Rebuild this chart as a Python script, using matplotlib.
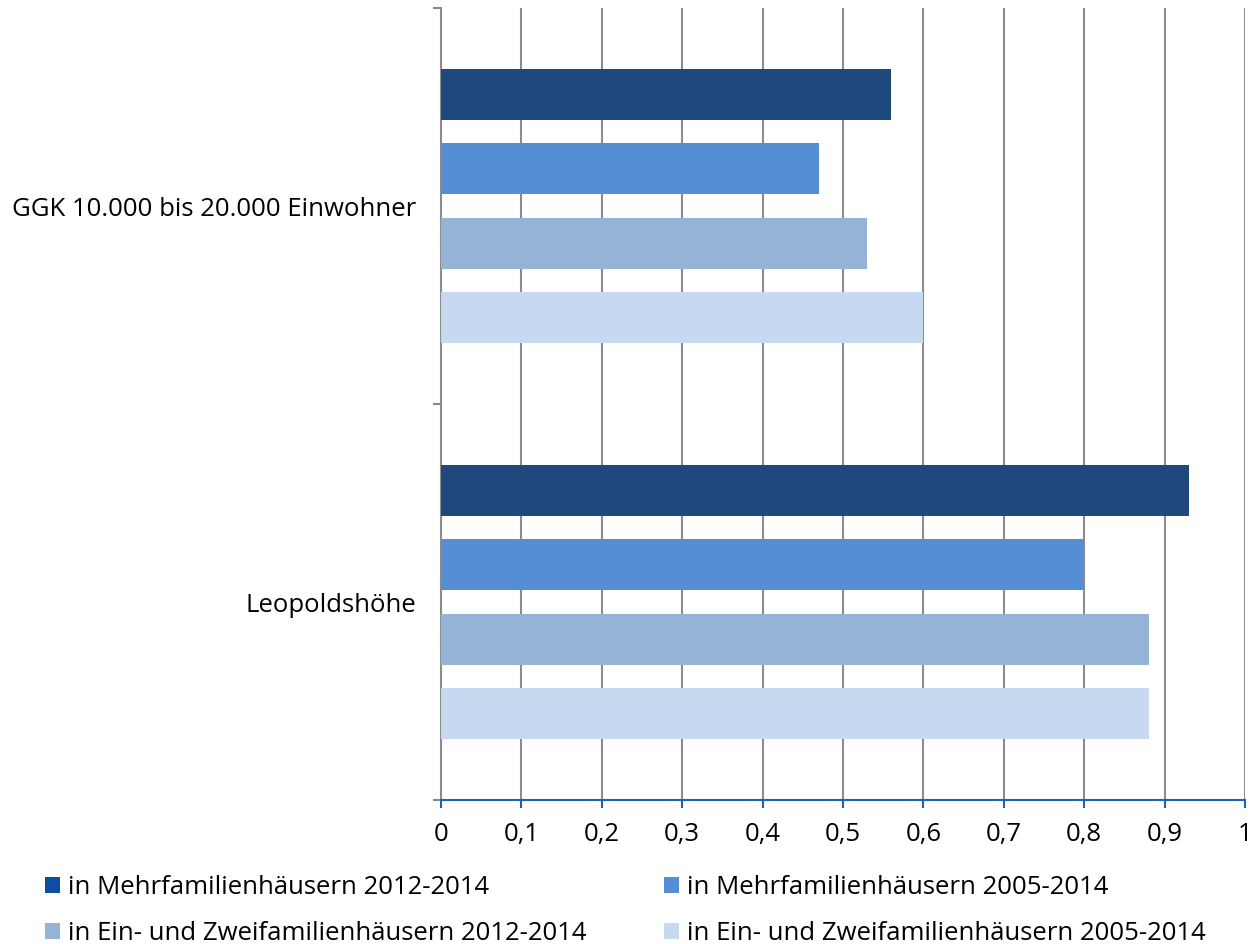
import matplotlib.pyplot as plt
from matplotlib.patches import Patch

plt.rcParams['font.family'] = ['Open Sans', 'DejaVu Sans']

# Data
categories = ['Leopoldshöhe', 'GGK 10.000 bis 20.000 Einwohner']
series = ['in Mehrfamilienhäusern 2012-2014',
          'in Mehrfamilienhäusern 2005-2014',
          'in Ein- und Zweifamilienhäusern 2012-2014',
          'in Ein- und Zweifamilienhäusern 2005-2014']
mfh_2012 = [0.93, 0.56]
mfh_2005 = [0.80, 0.47]
ezfh_2012 = [0.88, 0.53]
ezfh_2005 = [0.88, 0.60]
values = [mfh_2012, mfh_2005, ezfh_2012, ezfh_2005]
x_ticks = [0, 0.1, 0.2, 0.3, 0.4, 0.5, 0.6, 0.7, 0.8, 0.9, 1]
x_labels = ['0', '0,1', '0,2', '0,3', '0,4', '0,5', '0,6', '0,7', '0,8', '0,9', '1']

bar_colors = ['#1F497D', '#558ED5', '#95B3D7', '#C6D9F1']
legend_colors = ['#0B4EA2', '#558ED5', '#95B3D7', '#C6D9F1']
fs = 18.5

fig = plt.figure(figsize=(12.51, 9.44), dpi=100)
ax = fig.add_axes([0.3525, 0.1525, 0.6427, 0.839])

step = 0.1877
height = 0.129
for i, vals in enumerate(values):
    offset = (1.5 - i) * step
    ys = [c + 0.5 + offset for c in range(len(categories))]
    ax.barh(ys, vals, height=height, color=bar_colors[i], zorder=3)

ax.set_xlim(0, 1)
ax.set_ylim(0, 2)

ax.set_xticks(x_ticks)
ax.set_xticklabels(x_labels, fontsize=fs)
ax.set_yticks([0, 1, 2])
ax.set_yticklabels([])
ax.set_yticks([0.5, 1.5], minor=True)
ax.set_yticklabels(categories, minor=True, fontsize=fs)
ax.tick_params(axis='y', which='minor', length=0, pad=18)
ax.tick_params(axis='y', which='major', length=6, color='#888888', width=1.5)
ax.tick_params(axis='x', length=6, color='#1F62B5', width=1.5, pad=10)

ax.grid(axis='x', color='#8c8c8c', linewidth=1.5, zorder=0)
ax.set_axisbelow(True)
for s in ['top', 'right']:
    ax.spines[s].set_visible(False)
ax.spines['left'].set_color('#8c8c8c')
ax.spines['left'].set_linewidth(1.5)
ax.spines['bottom'].set_color('#1F62B5')
ax.spines['bottom'].set_linewidth(1.5)
ax.spines['bottom'].set_zorder(5)

# legend is filled row by row in the reference
order = [0, 2, 1, 3]
handles = [Patch(facecolor=legend_colors[k], edgecolor='none') for k in order]
labels = [series[k] for k in order]
fig.legend(handles, labels, loc='upper left', bbox_to_anchor=(0.036, 0.073),
           ncol=2, frameon=False, fontsize=fs, handlelength=0.6,
           handleheight=0.6, handletextpad=0.3, columnspacing=3.0,
           labelspacing=0.82, borderaxespad=0, borderpad=0)

fig.savefig('out.png', dpi=100)
